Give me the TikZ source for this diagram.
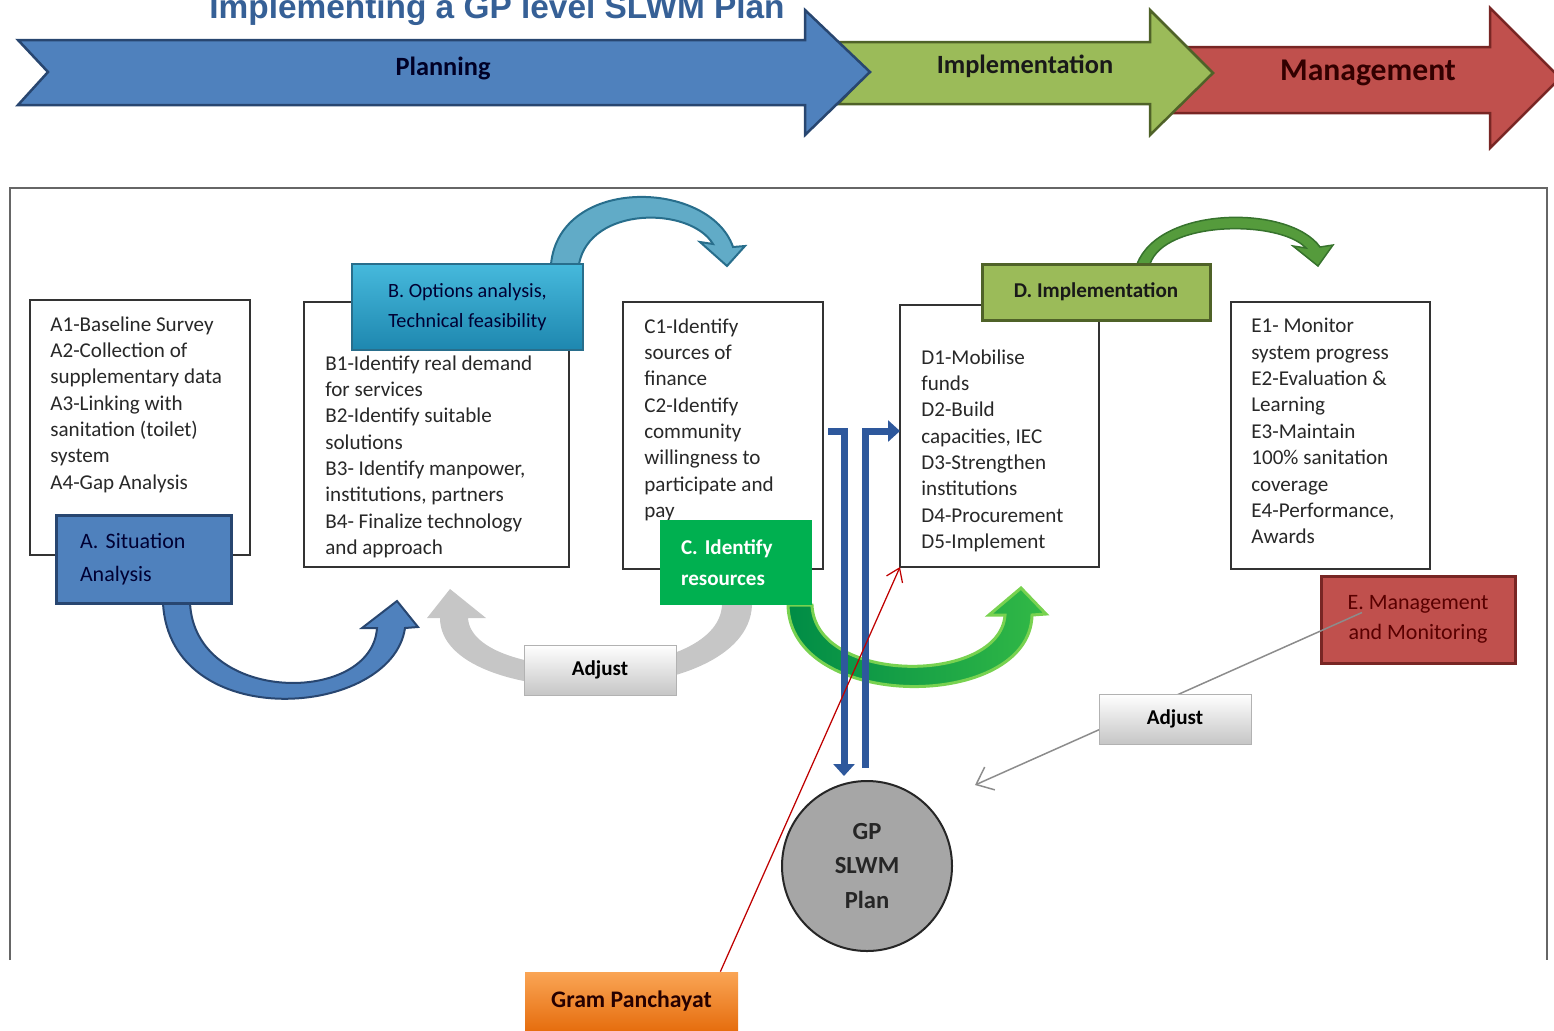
\documentclass[tikz,border=0pt]{standalone}
\usepackage{fontspec}
\setmainfont{Carlito}
\newfontfamily\titelfont{Liberation Sans}
\usetikzlibrary{arrows.meta,calc,positioning}

\definecolor{titelblau}{RGB}{54,96,150}
\definecolor{planblau}{RGB}{79,129,189}
\definecolor{planrand}{RGB}{40,70,112}
\definecolor{implgruen}{RGB}{155,187,89}
\definecolor{implrand}{RGB}{79,98,40}
\definecolor{mgmtrot}{RGB}{192,80,77}
\definecolor{mgmtrand}{RGB}{120,38,36}
\definecolor{tealhell}{RGB}{70,185,220}
\definecolor{tealdunkel}{RGB}{30,135,175}
\definecolor{tealrand}{RGB}{40,110,140}
\definecolor{resgruen}{RGB}{0,176,80}
\definecolor{bogengruenA}{RGB}{0,140,70}
\definecolor{bogengruenB}{RGB}{50,185,70}
\definecolor{bogengruenR}{RGB}{120,210,80}
\definecolor{kleingruen}{RGB}{85,155,60}
\definecolor{kleinrand}{RGB}{55,115,45}
\definecolor{orangehell}{RGB}{250,165,85}
\definecolor{orangedunkel}{RGB}{230,110,15}
\definecolor{textgrau}{RGB}{40,40,40}
\definecolor{balkenblau}{RGB}{46,88,156}
\definecolor{kreisgrau}{RGB}{166,166,166}

\tikzset{
	kasten/.style={draw=black!80, line width=0.3mm, fill=white, inner sep=0pt, outer sep=0pt},
	liste/.style={font=\fontsize{12}{15}\selectfont, text=textgrau, align=left, anchor=north west, inner sep=0pt},
	etikett/.style={line width=0.6mm, inner sep=0pt, outer sep=0pt, font=\fontsize{12}{18}\selectfont},
	anpassen/.style={draw=gray!60, top color=white, bottom color=gray!45, minimum width=30.4mm, minimum height=10mm, inner sep=0pt, font=\bfseries\fontsize{12}{14}\selectfont},
	balken/.style={draw=balkenblau, line width=1.4mm, -{Triangle[length=2.4mm,width=4.2mm]}},
	phase/.style={font=\bfseries\fontsize{15}{18}\selectfont},
}

\begin{document}
\begin{tikzpicture}[x=0.2mm,y=-0.2mm]
	\useasboundingbox (0,0) rectangle (1554,1030);

	% Titel
	\node[anchor=base, text=titelblau, font=\titelfont\bfseries\fontsize{19}{22}\selectfont] (titel) at (497,18) {Implementing a GP level SLWM Plan};

	% Phasenpfeile oben
	\filldraw[fill=mgmtrot, draw=mgmtrand, line width=0.5mm] (1170,47) -- (1490,47) -- (1490,8) -- (1560,78) -- (1490,148) -- (1490,113) -- (1170,113) -- (1203,80) -- cycle;
	\filldraw[fill=implgruen, draw=implrand, line width=0.5mm] (838,42) -- (1150,42) -- (1150,10) -- (1213,73) -- (1150,135) -- (1150,104) -- (838,104) -- (868,73) -- cycle;
	\filldraw[fill=planblau, draw=planrand, line width=0.5mm] (18,40) -- (805,40) -- (805,10) -- (870,72) -- (805,135) -- (805,105) -- (18,105) -- (48,72) -- cycle;
	\node[phase, text=black!85!blue] (planning) at (443,68) {Planning};
	\node[phase, text=black!90] (implementation) at (1025,66) {Implementation};
	\node[phase, font=\bfseries\fontsize{18}{20}\selectfont, text=black!80!red] (management) at (1368,73) {Management};

	% Rahmen
	\draw[draw=black!60, line width=0.4mm] (10,960) -- (10,188) -- (1547,188) -- (1547,960);

	% gebogene Pfeile
	\filldraw[fill=planblau, draw=planrand, line width=0.4mm] (163,603) .. controls (170,735) and (392,718) .. (405,628) -- (418,627) -- (397,601) -- (362,628) -- (377,628) .. controls (372,705) and (195,705) .. (190,603) -- cycle;
	\fill[gray!45] (752,605) .. controls (748,712) and (440,712) .. (440,618) -- (427,618) -- (450,589) -- (486,618) -- (468,618) .. controls (472,685) and (718,685) .. (722,605) -- cycle;
	\filldraw[left color=bogengruenA, right color=bogengruenB, draw=bogengruenR, line width=0.6mm] (788,605) .. controls (790,712) and (1030,712) .. (1032,615) -- (1046,614) -- (1021,588) -- (989,615) -- (1005,615) .. controls (1000,685) and (815,685) .. (812,605) -- cycle;
	\filldraw[fill=tealdunkel!70, draw=tealrand, line width=0.4mm] (551,264) .. controls (560,175) and (710,180) .. (733,247) -- (745,246) -- (727,266) -- (700,242) -- (713,244) .. controls (690,206) and (590,206) .. (579,264) -- cycle;
	\filldraw[fill=kleingruen, draw=kleinrand, line width=0.3mm] (1137,264) .. controls (1160,205) and (1290,205) .. (1320,247) -- (1333,245) -- (1318,266) -- (1293,246) -- (1306,248) .. controls (1280,220) and (1165,220) .. (1150,264) -- cycle;

	% Kaesten
	\node[kasten, minimum width=44mm, minimum height=51mm] (abox) at (140,427.5) {};
	\node[kasten, minimum width=53mm, minimum height=53mm] (bbox) at (436.5,434.5) {};
	\node[kasten, minimum width=40mm, minimum height=53.4mm] (cbox) at (723,435.5) {};
	\node[kasten, minimum width=39.8mm, minimum height=52.4mm] (dbox) at (999.5,436) {};
	\node[kasten, minimum width=39.8mm, minimum height=53.4mm] (ebox) at (1330.5,435.5) {};

	\node[liste] (atext) at ($(abox.north west)+(20,16)$) {A1-Baseline Survey\\A2-Collection of\\supplementary data\\A3-Linking with\\sanitation (toilet)\\system\\A4-Gap Analysis};
	\node[liste] (btext) at ($(bbox.north west)+(21,53)$) {B1-Identify real demand\\for services\\B2-Identify suitable\\solutions\\B3- Identify manpower,\\institutions, partners\\B4- Finalize technology\\and approach};
	\node[liste] (ctext) at ($(cbox.north west)+(21,16)$) {C1-Identify\\sources of\\finance\\C2-Identify\\community\\willingness to\\participate and\\pay};
	\node[liste] (dtext) at ($(dbox.north west)+(21,44)$) {D1-Mobilise\\funds\\D2-Build\\capacities, IEC\\D3-Strengthen\\institutions\\D4-Procurement\\D5-Implement};
	\node[liste] (etext) at ($(ebox.north west)+(20,16)$) {E1- Monitor\\system progress\\E2-Evaluation \&\\Learning\\E3-Maintain\\100\% sanitation\\coverage\\E4-Performance,\\Awards};

	% Etiketten
	\node[etikett, fill=planblau, draw=planrand, minimum width=34.8mm, minimum height=17.6mm, text width=25.6mm, align=left, text=black!80!blue, font=\fontsize{12.5}{19}\selectfont] (alab) at (144,559) {A. Situation\\Analysis};
	\node[etikett, top color=tealhell, bottom color=tealdunkel, draw=tealrand, line width=0.3mm, minimum width=46.2mm, minimum height=17.2mm, align=center, text=black!80!blue, font=\fontsize{11.5}{17}\selectfont] (blab) at (467.5,307) {B. Options analysis,\\Technical feasibility};
	\node[etikett, fill=resgruen, minimum width=30.4mm, minimum height=17mm, text width=22mm, align=left, text=white, font=\bfseries\fontsize{12}{17.5}\selectfont] (clab) at (736,562.5) {C. Identify\\resources};
	\node[etikett, fill=implgruen, draw=implrand, minimum width=45.6mm, minimum height=11.2mm, text=black!90, font=\bfseries\fontsize{12}{14}\selectfont] (dlab) at (1096,292) {D. Implementation};
	\node[etikett, fill=mgmtrot, draw=mgmtrand, minimum width=38.8mm, minimum height=17.4mm, align=center, text=black!65!red, font=\fontsize{12.5}{17}\selectfont] (elab) at (1418,619.5) {E. Management\\and Monitoring};

	% Anpassen und Rueckfuehrung
	\node[anpassen] (adjust1) at (600,670) {Adjust};
	\coordinate (gpziel) at (975,785);
	\draw[draw=gray!90, line width=0.3mm, -{Straight Barb[length=3mm,width=5mm]}] ($(elab.west)+(41,-7)$) -- (gpziel);
	\node[anpassen] (adjust2) at (1175,719) {Adjust};

	% GP Plan
	\node[circle, draw=black!85, line width=0.4mm, fill=kreisgrau, minimum size=34mm, align=center, font=\bfseries\fontsize{14}{19.5}\selectfont, text=black!85] (gp) at (867,866) {GP\\SLWM\\Plan};
	\node[top color=orangehell, bottom color=orangedunkel, minimum width=42.6mm, minimum height=11.6mm, inner sep=0pt, font=\bfseries\fontsize{13.5}{16}\selectfont, text=black!85!red] (gpan) at (631.5,1001) {Gram Panchayat};

	% Balken zwischen C, Plan und D
	\coordinate (cbar) at (828,431);
	\draw[balken] (cbar) -| ($(gp.north)+(-23,-4)$);
	\draw[balken] ($(gp.north)+(-2,-12)$) |- (cbar -| dbox.west);

	% Verbindung Gram Panchayat
	\draw[draw=red!75!black, line width=0.25mm, -{Straight Barb[length=2.5mm,width=3.5mm]}] ($(gpan.north east)+(-18,0)$) -- (dbox.south west);

\end{tikzpicture}
\end{document}
